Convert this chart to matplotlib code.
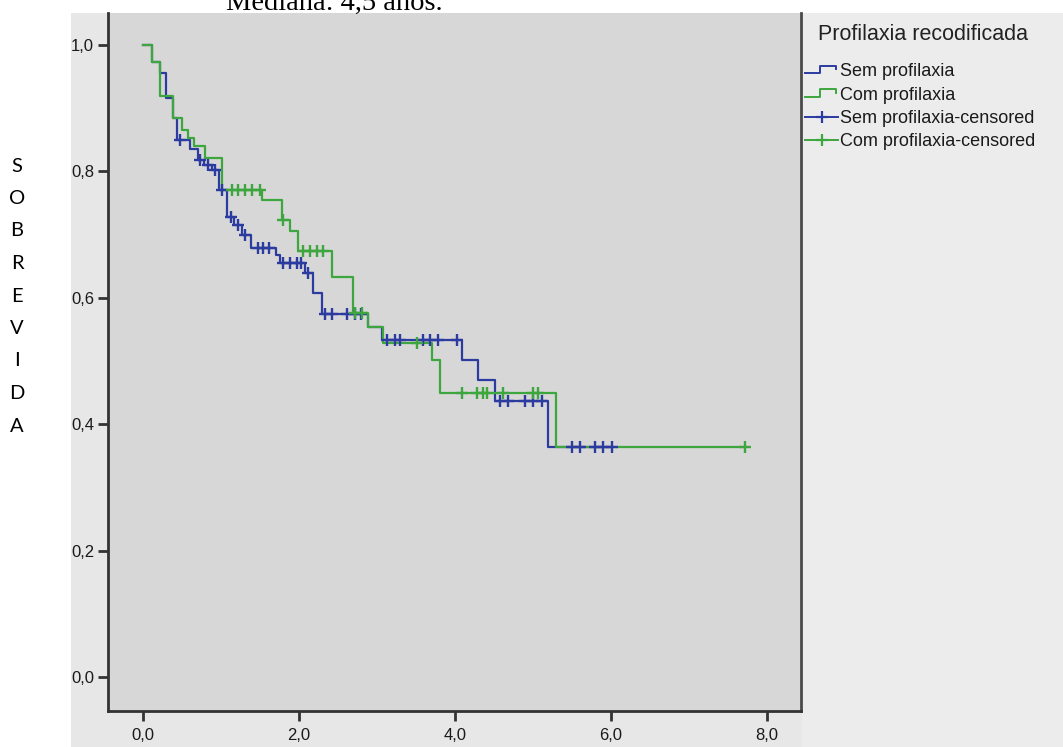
import matplotlib
matplotlib.use("Agg")
import matplotlib.pyplot as plt
import numpy as np
from matplotlib.patches import Rectangle
from matplotlib.lines import Line2D
from matplotlib.legend_handler import HandlerBase

# ---------------- data ----------------
sem_times = [0, 0.11, 0.22, 0.30, 0.39, 0.44, 0.60, 0.70, 0.78, 0.88, 0.97, 1.08, 1.17, 1.27,
             1.39, 1.71, 1.76, 2.08, 2.18, 2.29, 2.89, 3.06, 4.09, 4.30, 4.51, 5.19]
sem_surv = [1.0, 0.973, 0.955, 0.916, 0.884, 0.85, 0.836, 0.818, 0.81, 0.802, 0.771, 0.728, 0.715, 0.699,
            0.678, 0.668, 0.655, 0.639, 0.607, 0.575, 0.554, 0.533, 0.502, 0.470, 0.436, 0.364]
sem_end = 6.01
sem_censored = [0.47, 0.73, 0.83, 0.92, 1.01, 1.13, 1.22, 1.31, 1.48, 1.54, 1.61, 1.80, 1.88, 1.97,
                2.03, 2.12, 2.33, 2.42, 2.61, 2.72, 2.80, 3.13, 3.23, 3.29, 3.59, 3.68, 3.78, 4.03,
                4.58, 4.68, 4.90, 5.00, 5.11, 5.50, 5.60, 5.79, 5.90, 6.01]

com_times = [0, 0.11, 0.22, 0.39, 0.50, 0.58, 0.66, 0.80, 1.01, 1.53, 1.78, 1.88, 1.99, 2.42,
             2.69, 2.88, 3.08, 3.70, 3.81, 5.30]
com_surv = [1.0, 0.973, 0.92, 0.884, 0.866, 0.853, 0.840, 0.821, 0.771, 0.755, 0.723, 0.705, 0.674, 0.633,
            0.576, 0.554, 0.528, 0.502, 0.449, 0.364]
com_end = 7.72
com_censored = [1.14, 1.22, 1.31, 1.40, 1.50, 1.80, 2.05, 2.14, 2.23, 2.31, 2.72, 2.81, 3.51,
                4.09, 4.28, 4.36, 4.41, 4.62, 5.00, 5.06, 7.72]

xticks = [0, 2, 4, 6, 8]
xtick_labels = ["0,0", "2,0", "4,0", "6,0", "8,0"]
yticks = [0.0, 0.2, 0.4, 0.6, 0.8, 1.0]
ytick_labels = ["0,0", "0,2", "0,4", "0,6", "0,8", "1,0"]

series_labels = ["Sem profilaxia", "Com profilaxia",
                 "Sem profilaxia-censored", "Com profilaxia-censored"]
legend_title = "Profilaxia recodificada"
title_text = "Mediana: 4,5 anos."
ylabel_text = "SOBREVIDA"

BLUE = "#2b3b9f"
GREEN = "#3ea63e"

# ---------------- figure ----------------
W, H = 1063, 747
fig = plt.figure(figsize=(W / 100, H / 100), dpi=100)
fig.patch.set_facecolor("white")


def fx(px):
    return px / W


def fy(py):
    return 1 - py / H


fig.patches.append(Rectangle((fx(71), 0), 1 - fx(71), fy(13), transform=fig.transFigure,
                             facecolor="#e7e7e7", edgecolor="none", zorder=-2))
fig.patches.append(Rectangle((fx(802), 0), 1 - fx(802), fy(13), transform=fig.transFigure,
                             facecolor="#ececec", edgecolor="none", zorder=-1))

ax = fig.add_axes([fx(108), fy(711), fx(801) - fx(108), fy(13) - fy(711)])
ax.set_facecolor("#d7d7d7")


def step_value(times, surv, t):
    idx = np.searchsorted(np.asarray(times), np.asarray(t), side="right") - 1
    return np.asarray(surv)[idx]


for times, surv, end, col in [(sem_times, sem_surv, sem_end, BLUE),
                              (com_times, com_surv, com_end, GREEN)]:
    ax.step(list(times) + [end], list(surv) + [surv[-1]], where="post",
            color=col, lw=1.6, zorder=3)

for times, surv, cens, col in [(sem_times, sem_surv, sem_censored, BLUE),
                               (com_times, com_surv, com_censored, GREEN)]:
    ax.plot(cens, step_value(times, surv, cens), linestyle="none", marker="+",
            markersize=8, markeredgewidth=1.7, color=col, zorder=4)

ax.set_xlim(-0.449, 8.436)
ax.set_ylim(-0.0538, 1.0506)
ax.set_xticks(xticks)
ax.set_xticklabels(xtick_labels)
ax.set_yticks(yticks)
ax.set_yticklabels(ytick_labels)

for side in ["left", "bottom"]:
    ax.spines[side].set_linewidth(2)
    ax.spines[side].set_color("#333333")
ax.spines["top"].set_visible(False)
ax.spines["right"].set_linewidth(2)
ax.spines["right"].set_color("#4a4a4a")

ax.tick_params(axis="both", length=7, width=2, color="#333333",
               labelsize=12, labelcolor="#1a1a1a")
ax.tick_params(axis="x", pad=5)
ax.tick_params(axis="y", pad=3)
for lab in ax.get_xticklabels() + ax.get_yticklabels():
    lab.set_fontfamily("Liberation Sans")

# top text (cropped document caption, as in the reference)
fig.text(fx(226), fy(10), title_text, fontfamily="Liberation Serif", fontsize=20.5,
         ha="left", va="baseline", color="black")

# vertical y-label letters
for i, ch in enumerate(ylabel_text):
    fig.text(fx(17), fy(166 + 32.5 * i), ch, fontfamily="Lato", fontsize=14.5,
             ha="center", va="center", color="black")

# legend
fig.text(fx(818), fy(34), legend_title, fontfamily="Liberation Sans", fontsize=15.5,
         ha="left", va="center", color="#222222")


class StepHandler(HandlerBase):
    def create_artists(self, legend, orig_handle, xdescent, ydescent, width, height,
                       fontsize, trans):
        x0 = -xdescent
        xs = [x0, x0 + 0.45 * width, x0 + 0.45 * width, x0 + 0.93 * width, x0 + 0.93 * width]
        y0 = -ydescent
        ys = [y0 + 0.2 * height, y0 + 0.2 * height, y0 + 0.8 * height, y0 + 0.8 * height,
              y0 + 0.55 * height]
        ln = Line2D(xs, ys, color=orig_handle.get_color(), lw=1.4, transform=trans)
        return [ln]


h_sem = Line2D([], [], color=BLUE, lw=1.4)
h_com = Line2D([], [], color=GREEN, lw=1.4)
h_sem_c = Line2D([], [], color=BLUE, lw=1.4, marker="+", markersize=8, markeredgewidth=1.6)
h_com_c = Line2D([], [], color=GREEN, lw=1.4, marker="+", markersize=8, markeredgewidth=1.6)

leg = fig.legend([h_sem, h_com, h_sem_c, h_com_c], series_labels,
                 loc="upper left", bbox_to_anchor=(fx(805), fy(63)),
                 bbox_transform=fig.transFigure, frameon=False,
                 prop={"family": "Liberation Sans", "size": 13},
                 handlelength=1.83, handletextpad=0.12, labelspacing=0.36,
                 borderpad=0, borderaxespad=0, numpoints=1,
                 handler_map={h_sem: StepHandler(), h_com: StepHandler()})
for t in leg.get_texts():
    t.set_color("#1a1a1a")

fig.savefig("out.png", dpi=100, facecolor=fig.get_facecolor())
